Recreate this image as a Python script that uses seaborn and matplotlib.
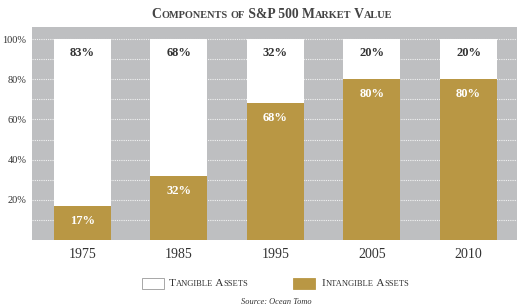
import matplotlib
matplotlib.use("Agg")
import matplotlib.pyplot as plt
import seaborn as sns
import pandas as pd
from matplotlib.patches import Rectangle
from matplotlib.offsetbox import TextArea, HPacker, AnchoredOffsetbox

years = ["1975", "1985", "1995", "2005", "2010"]
intangible = [17, 32, 68, 80, 80]
tangible = [83, 68, 32, 20, 20]
ytick_vals = [20, 40, 60, 80, 100]
ytick_labels = ["20%", "40%", "60%", "80%", "100%"]
legend_labels = ["Tangible Assets", "Intangible Assets"]

GOLD = "#B99744"
GRAY = "#BEBFC1"
TXT = "#333333"

sns.set_theme(style="white")
plt.rcParams["font.family"] = ["Liberation Serif", "DejaVu Serif"]

df = pd.DataFrame({"year": years, "intangible": intangible, "tangible": tangible})
df["total"] = df["intangible"] + df["tangible"]

fig = plt.figure(figsize=(5.18, 3.08), dpi=100)
ax = fig.add_axes([0.0618, 0.2208, 0.936, 0.6912])
ax.set_facecolor(GRAY)

sns.barplot(data=df, x="year", y="total", color="white", width=0.59,
            saturation=1, ax=ax, zorder=2, edgecolor="none")
sns.barplot(data=df, x="year", y="intangible", color=GOLD, width=0.59,
            saturation=1, ax=ax, zorder=3, edgecolor="none")

for y in range(10, 101, 10):
    ax.axhline(y, color="white", lw=0.8, ls=(0, (1, 1)), alpha=0.8, zorder=1)

ax.set_ylim(0, 106)
ax.set_xlim(-0.52, 4.5)
ax.set_yticks(ytick_vals)
ax.set_yticklabels(ytick_labels, fontsize=7.5, color=TXT)
ax.tick_params(axis="y", length=0, pad=4)
ax.tick_params(axis="x", length=0, pad=6, labelsize=10, labelcolor=TXT)
ax.set_xlabel("")
ax.set_ylabel("")
for s in ax.spines.values():
    s.set_visible(False)

for i, (a, t) in enumerate(zip(intangible, tangible)):
    ax.text(i, a - 7.5, f"{a}%", ha="center", va="center", color="white",
            fontsize=9, fontweight="bold", zorder=5)
    ax.text(i, 100 - 7, f"{t}%", ha="center", va="center", color=TXT,
            fontsize=9, fontweight="bold", zorder=5)


def small_caps(text, big, small, weight="normal", color=TXT):
    parts = []
    cur = ""
    cur_upper = None
    for ch in text:
        up = not ch.islower()
        if cur_upper is None or up == cur_upper:
            cur += ch
        else:
            parts.append((cur, cur_upper))
            cur = ch
        cur_upper = up
    if cur:
        parts.append((cur, cur_upper))
    areas = []
    for s, up in parts:
        s_disp = s if up else s.upper()
        areas.append(TextArea(s_disp, textprops=dict(size=big if up else small,
                                                     weight=weight, color=color,
                                                     family=["Liberation Serif", "DejaVu Serif"])))
    return HPacker(children=areas, pad=0, sep=0, align="baseline")


def place(box, x, y, loc="center"):
    ab = AnchoredOffsetbox(loc=loc, child=box, pad=0, borderpad=0, frameon=False,
                           bbox_to_anchor=(x, y), bbox_transform=fig.transFigure)
    fig.add_artist(ab)


place(small_caps("Components of S&P 500 Market Value", 9.8, 7.4, weight="bold", color="#444444"),
      0.525, 0.952)

# legend
fig.add_artist(Rectangle((142 / 518, 0.062), 22 / 518, 0.036, transform=fig.transFigure,
                         facecolor="white", edgecolor="#999999", lw=0.6))
fig.add_artist(Rectangle((293 / 518, 0.062), 22 / 518, 0.036, transform=fig.transFigure,
                         facecolor=GOLD, edgecolor=GOLD, lw=0.6))
place(small_caps(legend_labels[0], 8.2, 6.1), 169 / 518, 0.08, loc="center left")
place(small_caps(legend_labels[1], 8.2, 6.1), 322 / 518, 0.08, loc="center left")

fig.text(0.533, 0.02, "Source: Ocean Tomo", ha="center", va="center",
         fontsize=6, style="italic", color=TXT)

fig.savefig("out.png", dpi=100)
